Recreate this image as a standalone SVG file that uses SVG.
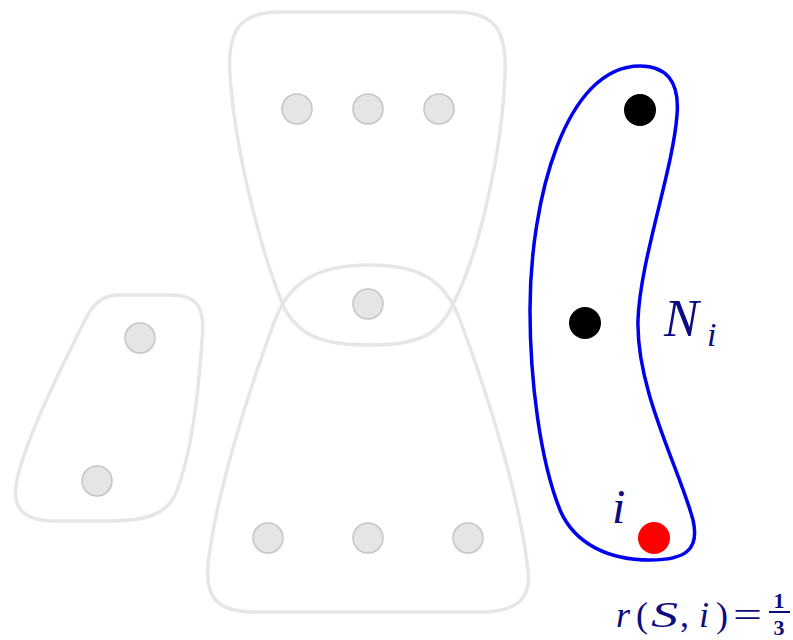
<svg xmlns="http://www.w3.org/2000/svg" width="793" height="640" viewBox="0 0 793 640">
<style>
.hull{fill:none;stroke:#e6e6e6;stroke-width:3.5}
.g{fill:#e5e5e5;stroke:#c4c4c4;stroke-width:1.5}
.lab{font-family:"Liberation Serif",serif;fill:#0c0c80}
.it{font-style:italic}
.f{font-size:36px}
</style>
<rect width="793" height="640" fill="#fff"/>
<g id="hull-top"><path class="hull" d="M 280 12 H 455 C 495 12 507 30 505 75 C 502 150 480 250 455 300 C 440 335 420 345 370 345 C 320 345 300 335 285 310 C 260 250 235 150 230 75 C 227 30 240 12 280 12 Z"/></g>
<g id="hull-bottom"><path class="hull" d="M 370 265 C 420 265 445 280 460 320 C 490 400 520 500 528 570 C 532 600 515 612 480 612 H 255 C 220 612 205 600 208 565 C 215 500 245 400 275 320 C 290 280 320 265 370 265 Z"/></g>
<g id="hull-left"><path class="hull" d="M 120 295 H 170 C 200 295 205 310 202 340 C 198 400 190 460 175 495 C 165 515 145 521 110 521 H 55 C 20 521 10 505 18 475 C 30 430 60 370 85 320 C 95 300 105 295 120 295 Z"/></g>
<g id="hull-Ni"><path d="M 640 66 C 665 66 680 80 677 115 C 673 170 640 260 638 320 C 636 390 680 470 693 520 C 700 550 685 560 650 560 C 610 560 575 545 560 510 C 540 460 530 380 530 310 C 530 200 565 66 640 66 Z" fill="none" stroke="#0000ee" stroke-width="3.5"/></g>
<g id="n1"><circle class="g" cx="297" cy="109" r="15"/></g>
<g id="n2"><circle class="g" cx="368" cy="109" r="15"/></g>
<g id="n3"><circle class="g" cx="439" cy="109" r="15"/></g>
<g id="n4"><circle class="g" cx="368" cy="304" r="15"/></g>
<g id="n5"><circle class="g" cx="140" cy="338" r="15"/></g>
<g id="n6"><circle class="g" cx="97" cy="481" r="15"/></g>
<g id="n7"><circle class="g" cx="268" cy="538" r="15"/></g>
<g id="n8"><circle class="g" cx="368" cy="538" r="15"/></g>
<g id="n9"><circle class="g" cx="468" cy="538" r="15"/></g>
<g id="b1"><circle cx="640" cy="110" r="16" fill="#000"/></g>
<g id="b2"><circle cx="585" cy="323" r="16" fill="#000"/></g>
<g id="i"><circle cx="654" cy="538" r="16" fill="#ff0000"/></g>
<g id="labels">
<text class="lab it" x="664" y="336" font-size="52">N</text>
<text class="lab it" x="707" y="346" font-size="34">i</text>
<text class="lab it" x="612" y="523" font-size="48">i</text>
<text class="lab it f" x="616" y="627">r</text>
<text class="lab f" x="636" y="627">(</text>
<text class="lab it f" x="651" y="627" textLength="27" lengthAdjust="spacingAndGlyphs">S</text>
<text class="lab f" x="680" y="627">,</text>
<text class="lab it f" x="699" y="627">i</text>
<text class="lab f" x="716" y="627">)</text>
<text class="lab f" x="733" y="627" textLength="29" lengthAdjust="spacingAndGlyphs">=</text>
<text class="lab" x="779" y="608" font-size="22" font-weight="bold" text-anchor="middle">1</text>
<line x1="769" y1="612" x2="790" y2="612" stroke="#0c0c80" stroke-width="2"/>
<text class="lab" x="779" y="635" font-size="22" font-weight="bold" text-anchor="middle">3</text>
</g>
</svg>
